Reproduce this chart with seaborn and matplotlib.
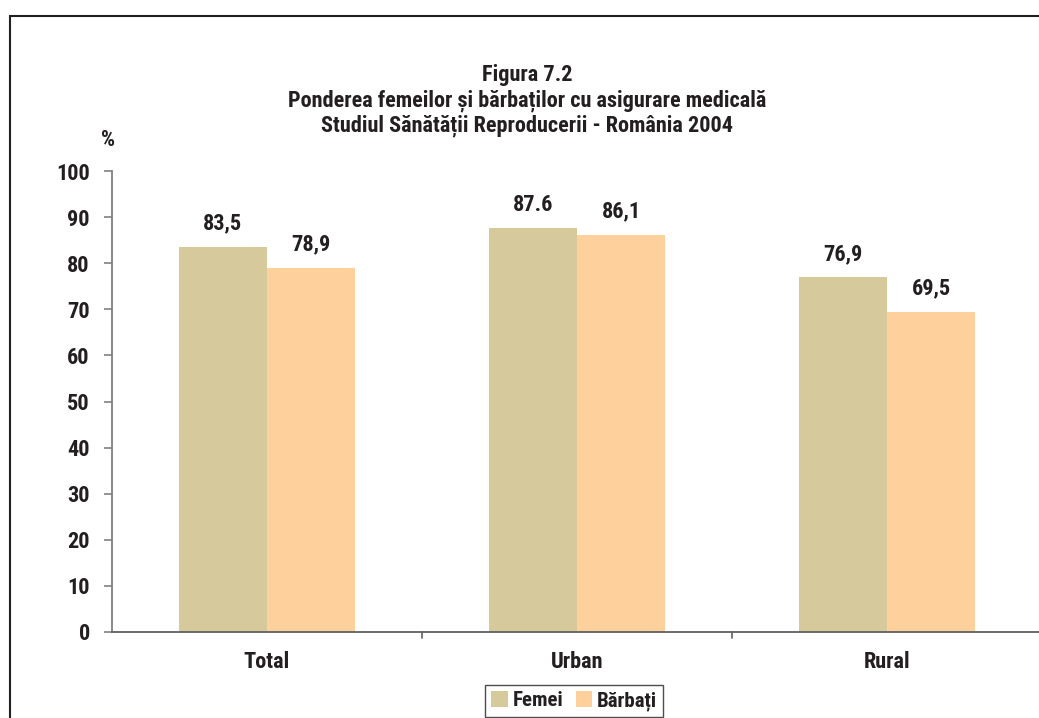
import matplotlib
matplotlib.use("Agg")
import matplotlib.pyplot as plt
import seaborn as sns
import pandas as pd
from matplotlib.patches import Rectangle, Patch

categories = ["Total", "Urban", "Rural"]
series = ["Femei", "Bărbați"]
femei = [83.5, 87.6, 76.9]
barbati = [78.9, 86.1, 69.5]
femei_labels = ["83,5", "87.6", "76,9"]
barbati_labels = ["78,9", "86,1", "69,5"]
yticks = [0, 10, 20, 30, 40, 50, 60, 70, 80, 90, 100]
colors = ["#D6CA9C", "#FDD09C"]

sns.set_theme(style="white")
FAM = ["Roboto Condensed", "DejaVu Sans"]
plt.rcParams["font.family"] = FAM
plt.rcParams["font.weight"] = "bold"
TXT = "#231f20"
FS = 16

df = pd.DataFrame({
    "cat": categories * 2,
    "ser": [series[0]] * 3 + [series[1]] * 3,
    "val": femei + barbati,
})

W, H = 1039, 718
fig = plt.figure(figsize=(W / 100, H / 100), dpi=100)
x0, x1 = 112, 1042
y0, y1 = 632, 171
ax = fig.add_axes([x0 / W, 1 - y0 / H, (x1 - x0) / W, (y0 - y1) / H])

sns.barplot(data=df, x="cat", y="val", hue="ser", order=categories, hue_order=series,
            palette=colors, width=0.57, ax=ax, legend=False, saturation=1, linewidth=0)

ax.set_xlim(-0.5, 2.5)
ax.set_ylim(0, 100)
ax.set_yticks(yticks)
ax.set_yticklabels([str(v) for v in yticks], fontsize=FS, fontweight="bold", color=TXT)
ax.set_xticks(range(len(categories)))
ax.set_xticklabels(categories, fontsize=FS, fontweight="bold", color=TXT)
ax.tick_params(axis="x", length=0, pad=14)
ax.tick_params(axis="y", length=6, width=1.2, color="#808080", direction="out", pad=10, left=True)
for b in [0.5, 1.5]:
    ax.plot([b, b], [0, -0.013], transform=ax.get_xaxis_transform(), color="#606060",
            lw=1.2, clip_on=False)
ax.set_xlabel("")
ax.set_ylabel("")
for s in ["top", "right"]:
    ax.spines[s].set_visible(False)
ax.spines["left"].set_color("#808080")
ax.spines["left"].set_linewidth(1.3)
ax.spines["bottom"].set_color("#606060")
ax.spines["bottom"].set_linewidth(1.3)

for cont, labs in zip(ax.containers, [femei_labels, barbati_labels]):
    ax.bar_label(cont, labels=labs, padding=9, fontsize=FS, fontweight="bold", color=TXT)

fig.text(527 / W, 1 - 75 / H, "Figura 7.2", ha="center", va="center", fontsize=FS,
         fontweight="bold", color=TXT)
fig.text(527 / W, 1 - 101 / H, "Ponderea femeilor și bărbaților cu asigurare medicală",
         ha="center", va="center", fontsize=FS, fontweight="bold", color=TXT)
fig.text(527 / W, 1 - 126 / H, "Studiul Sănătății Reproducerii - România 2004",
         ha="center", va="center", fontsize=FS, fontweight="bold", color=TXT)
fig.text(108 / W, 1 - 140 / H, "%", ha="center", va="center", fontsize=16,
         fontweight="bold", color=TXT)

handles = [Patch(facecolor=c, edgecolor="none") for c in colors]
leg = fig.legend(handles, series, loc="center", bbox_to_anchor=(574 / W, 1 - 701 / H),
                 ncol=2, frameon=True, fancybox=False, handlelength=0.8, handleheight=0.8,
                 handletextpad=0.2, columnspacing=0.6, borderpad=0.3, borderaxespad=0,
                 prop={"family": FAM, "weight": "bold", "size": 15})
leg.get_frame().set_edgecolor(TXT)
leg.get_frame().set_linewidth(1.0)
for t in leg.get_texts():
    t.set_color(TXT)

fig.patches.append(Rectangle((10 / W, -0.1), 1.2, 1 - 16 / H + 0.1, transform=fig.transFigure,
                             fill=False, edgecolor=TXT, linewidth=1.5))

fig.savefig("out.png", dpi=100)
